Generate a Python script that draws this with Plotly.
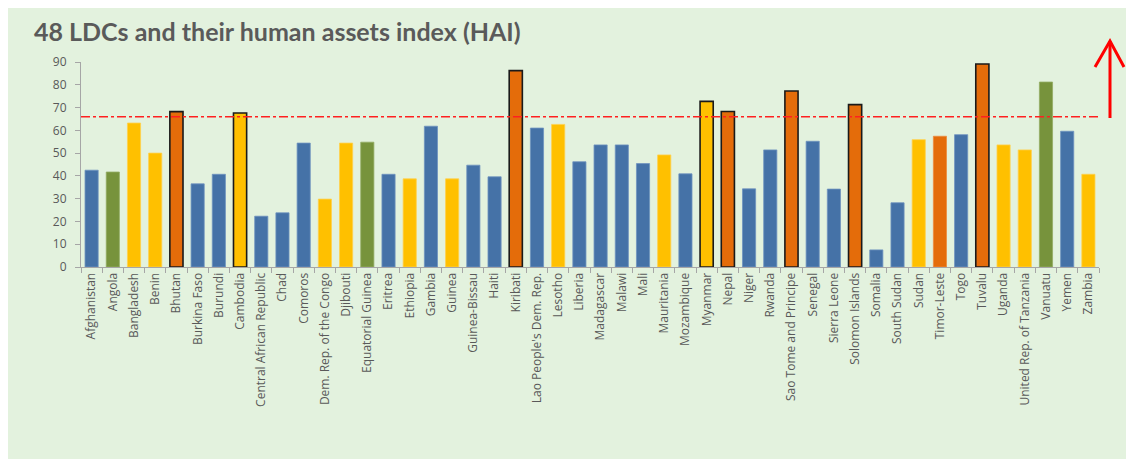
import plotly.graph_objects as go

countries = [
    "Afghanistan", "Angola", "Bangladesh", "Benin", "Bhutan", "Burkina Faso",
    "Burundi", "Cambodia", "Central African Republic", "Chad", "Comoros",
    "Dem. Rep. of the Congo", "Djibouti", "Equatorial Guinea", "Eritrea",
    "Ethiopia", "Gambia", "Guinea", "Guinea-Bissau", "Haiti", "Kiribati",
    "Lao People's Dem. Rep.", "Lesotho", "Liberia", "Madagascar", "Malawi",
    "Mali", "Mauritania", "Mozambique", "Myanmar", "Nepal", "Niger", "Rwanda",
    "Sao Tome and Principe", "Senegal", "Sierra Leone", "Solomon Islands",
    "Somalia", "South Sudan", "Sudan", "Timor-Leste", "Togo", "Tuvalu",
    "Uganda", "United Rep. of Tanzania", "Vanuatu", "Yemen", "Zambia",
]

hai = [
    42.5, 41.7, 63.2, 50.0, 68.2, 36.5,
    40.7, 67.6, 22.3, 23.8, 54.4,
    29.8, 54.4, 54.8, 40.7,
    38.7, 61.8, 38.7, 44.7, 39.6, 86.2,
    61.0, 62.6, 46.2, 53.6, 53.6,
    45.4, 49.2, 40.9, 72.7, 68.3, 34.3, 51.4,
    77.3, 55.2, 34.2, 71.3,
    7.5, 28.2, 55.9, 57.4, 58.1, 89.1,
    53.6, 51.4, 81.2, 59.6, 40.7,
]

# group code per country: A = blue, B = green, C = yellow, D = orange
group = [
    "A", "B", "C", "C", "D", "A",
    "A", "C", "A", "A", "A",
    "C", "C", "B", "A",
    "C", "A", "C", "A", "A", "D",
    "A", "C", "A", "A", "A",
    "A", "C", "A", "C", "D", "A", "A",
    "D", "A", "A", "D",
    "A", "A", "C", "D", "A", "D",
    "C", "C", "B", "A", "C",
]

flagged = ["Bhutan", "Cambodia", "Kiribati", "Myanmar", "Nepal",
           "Sao Tome and Principe", "Solomon Islands", "Tuvalu"]

threshold = 66
y_ticks = [0, 10, 20, 30, 40, 50, 60, 70, 80, 90]

palette = {"A": "#4572A7", "B": "#77933C", "C": "#FFC000", "D": "#E46C0A"}
edge = {"A": "#6F93BF", "B": "#93AC63", "C": "#FFD04D", "D": "#EC8C3F"}

colors = [palette[g] for g in group]
line_colors = ["#1A1A1A" if c in flagged else edge[g] for c, g in zip(countries, group)]
line_widths = [1.6 if c in flagged else 0.8 for c in countries]

fig = go.Figure()
fig.add_trace(go.Bar(
    x=countries, y=hai,
    marker=dict(color=colors, line=dict(color=line_colors, width=line_widths)),
    hoverinfo="x+y",
))

W, H = 1134, 459
ml, mr, mt, mb = 73, 43, 54, 200
pw = W - ml - mr
ph = H - mt - mb


def px(xp):
    return (xp - ml) / pw


def py(yp):
    return (H - mb - yp) / ph


shapes = [
    # threshold line
    dict(type="line", xref="paper", yref="y", x0=0, x1=1,
         y0=threshold, y1=threshold,
         line=dict(color="#FF2020", width=1.5, dash="dashdot")),
    # red arrow
    dict(type="line", xref="paper", yref="paper",
         x0=px(1102), x1=px(1102), y0=py(110), y1=py(33),
         line=dict(color="#FF0000", width=3)),
    dict(type="path", xref="paper", yref="paper",
         path=f"M {px(1087)},{py(59)} L {px(1102)},{py(33)} L {px(1116)},{py(59)}",
         line=dict(color="#FF0000", width=3)),
]

fig.add_annotation(
    text="<b>48 LDCs and their human assets index (HAI)</b>",
    xref="paper", yref="paper", x=px(24), y=py(23),
    xanchor="left", yanchor="middle", showarrow=False,
    font=dict(family="Lato", size=25, color="#5A5A5A"),
)

fig.update_layout(
    width=W, height=H,
    margin=dict(l=ml, r=mr, t=mt, b=mb, autoexpand=False),
    paper_bgcolor="#E3F2DE",
    plot_bgcolor="#E3F2DE",
    bargap=0.38,
    showlegend=False,
    shapes=shapes,
    font=dict(family="Open Sans", color="#595959"),
)

fig.update_xaxes(
    showgrid=False, showline=True, linecolor="#A6A6A6", linewidth=1,
    ticks="outside", tickson="boundaries", ticklen=5, tickcolor="#A6A6A6",
    tickangle=-90, tickfont=dict(family="Open Sans", size=12, color="#595959"),
    automargin=False,
)
fig.update_yaxes(
    range=[0, 90], tickvals=y_ticks, showgrid=False, zeroline=False,
    showline=True, linecolor="#A6A6A6", linewidth=1,
    ticks="outside", ticklen=5, tickcolor="#A6A6A6", ticklabelstandoff=6,
    tickfont=dict(family="Open Sans", size=12, color="#595959"),
    automargin=False,
)

fig.write_html("out.html")
